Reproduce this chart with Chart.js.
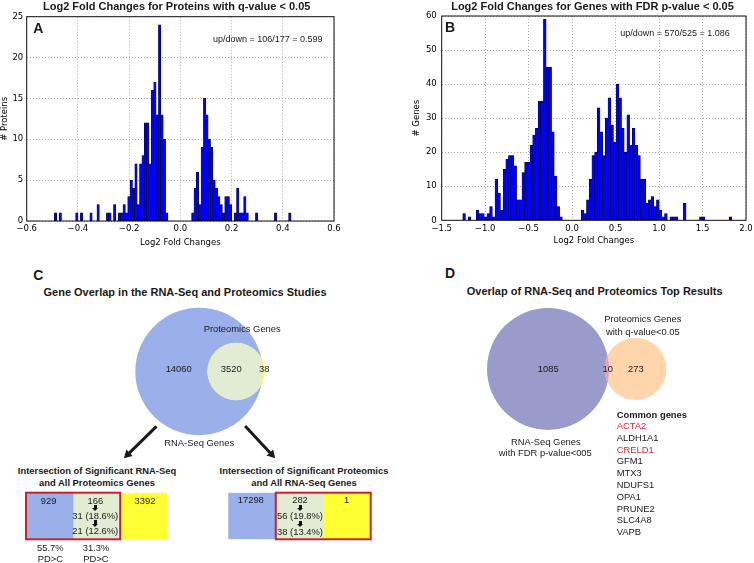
<!DOCTYPE html>
<html>
<head>
<meta charset="utf-8">
<script src="https://cdn.jsdelivr.net/npm/chart.js@4.4.1/dist/chart.umd.min.js"></script>
<style>
    html, body { margin: 0; padding: 0; background: #fff; }
    #page { position: relative; width: 754px; height: 563px; overflow: hidden; font-family: "Liberation Sans", Arial, sans-serif; color: #1a1a1a; }
    canvas { position: absolute; }
    .t { position: absolute; transform: translate(-50%, -50%); white-space: nowrap; line-height: 1; }
    .down { position: absolute; width: 7px; height: 7px; margin: -3.5px 0 0 -3.5px; }
    .down::before { content: ""; position: absolute; left: 2px; top: 0; width: 3px; height: 3.5px; background: #111; }
    .down::after { content: ""; position: absolute; left: 0; top: 3.5px; width: 0; height: 0; border-left: 3.5px solid transparent; border-right: 3.5px solid transparent; border-top: 3.5px solid #111; }
</style>
</head>
<body>
<div id="page">
    <canvas id="histA" width="354" height="252" style="left:0;top:0"></canvas>
    <canvas id="histB" width="354" height="252" style="left:400px;top:0"></canvas>
    <canvas id="vennC" width="200" height="165" style="left:100px;top:300px"></canvas>
    <canvas id="vennD" width="200" height="140" style="left:480px;top:300px"></canvas>
    <canvas id="cellsL" width="146" height="52" style="left:24px;top:490px"></canvas>
    <canvas id="cellsR" width="147" height="52" style="left:226px;top:490px"></canvas>
</div>
<script>
// A: log2 fold changes of proteins with q < 0.05 (100 bins)
const protRange = [-0.492, 0.432];
const protCounts = [
    1, 0, 1, 0, 0, 0, 0, 0, 0, 1,
    0, 1, 0, 0, 0, 1, 0, 0, 2, 0,
    0, 0, 1, 1, 0, 2, 0, 1, 1, 2,
    1, 3, 5, 4, 7, 2, 7, 8, 12, 12,
    7, 16, 17, 13, 24, 13, 10, 1, 0, 0,
    0, 0, 0, 0, 0, 0, 0, 0, 1, 4,
    6, 2, 9, 15, 13, 10, 9, 5, 4, 3,
    2, 1, 3, 3, 2, 0, 1, 4, 1, 1,
    3, 1, 0, 0, 0, 1, 0, 0, 0, 0,
    0, 0, 0, 1, 0, 0, 0, 0, 0, 1
];
const protXTicks = [-0.6, -0.4, -0.2, 0, 0.2, 0.4, 0.6];
const protYTicks = [0, 5, 10, 15, 20, 25];

// B: log2 fold changes of genes with FDR p < 0.05 (100 bins)
const geneRange = [-1.258, 1.837];
const geneCounts = [
    2, 0, 1, 0, 0, 3, 2, 2, 1, 2,
    4, 1, 12, 8, 3, 15, 18, 19, 19, 16,
    6, 6, 14, 17, 17, 22, 25, 27, 35, 35,
    59, 45, 45, 26, 13, 4, 1, 0, 0, 0,
    0, 0, 0, 0, 3, 2, 6, 12, 19, 20,
    33, 26, 19, 30, 36, 28, 23, 40, 36, 27,
    20, 31, 22, 27, 22, 19, 12, 12, 5, 6,
    7, 4, 6, 3, 1, 2, 0, 1, 1, 1,
    0, 0, 5, 0, 0, 0, 0, 0, 1, 1,
    0, 0, 0, 0, 0, 0, 0, 0, 0, 1
];
const geneXTicks = [-1.5, -1.0, -0.5, 0, 0.5, 1.0, 1.5, 2.0];
const geneYTicks = [0, 10, 20, 30, 40, 50, 60];

// C: all genes (RNA-Seq only, both, proteomics only)
const allCounts = [14060, 3520, 38];
const rnaSigCounts = [929, 166, 3392];
const rnaSigSteps = ["31 (18.6%)", "21 (12.6%)"];
const rnaSigPD = ["55.7%", "31.3%"];
const protSigCounts = [17298, 282, 1];
const protSigSteps = ["56 (19.8%)", "38 (13.4%)"];
const cellUnits = [1, 1, 1];

// D: top results (RNA-Seq only, both, proteomics only)
const topCounts = [1085, 10, 273];
const commonGenes = ["ACTA2", "ALDH1A1", "CRELD1", "GFM1", "MTX3", "NDUFS1", "OPA1", "PRUNE2", "SLC4A8", "VAPB"];
const redGenes = ["ACTA2", "CRELD1"];

const BLUE = "rgb(155,176,234)";
const GREEN = "rgb(226,236,210)";
const YELLOW = "rgb(255,255,51)";
const PURPLE = "rgb(154,154,203)";
const ORANGE = "rgb(255,213,171)";
const LENS = "rgb(214,168,190)";

const page = document.getElementById("page");

function addText(text, x, y, size, opts = {}) {
    const el = document.createElement("div");
    el.className = "t";
    el.textContent = text;
    el.style.left = x + "px";
    el.style.top = y + "px";
    el.style.fontSize = size + "px";
    if (opts.bold) el.style.fontWeight = "bold";
    if (opts.color) el.style.color = opts.color;
    if (opts.left) el.style.transform = "translate(0, -50%)";
    page.appendChild(el);
}

function addDownArrow(x, y) {
    const el = document.createElement("div");
    el.className = "down";
    el.style.left = x + "px";
    el.style.top = y + "px";
    page.appendChild(el);
}

function binWidth(range, counts) {
    return (range[1] - range[0]) / counts.length;
}

function upDown(range, counts) {
    const w = binWidth(range, counts);
    let up = 0, down = 0;
    counts.forEach((c, i) => {
        if (range[0] + (i + 0.5) * w > 0) up += c;
        else down += c;
    });
    return `up/down = ${up}/${down} = ${(up / down).toFixed(3)}`;
}

function fmtTick(v) {
    return (Math.abs(v) < 1e-9 ? 0 : v).toFixed(1).replace("-", "\u2212");
}

const framePlugin = {
    id: "frame",
    afterDatasetsDraw(chart) {
        const { ctx, chartArea: a } = chart;
        ctx.save();
        ctx.strokeStyle = "#111";
        ctx.lineWidth = 1;
        ctx.strokeRect(a.left, a.top, a.right - a.left, a.bottom - a.top);
        ctx.restore();
    }
};

function histogram(id, range, counts, xTicks, yTicks, cfg) {
    const w = binWidth(range, counts);
    const points = counts.map((c, i) => ({ x: range[0] + (i + 0.5) * w, y: c }));
    const font = { family: "DejaVu Sans", size: 8.5 };
    const grid = { color: "#9a9a9a", lineWidth: 0.8, drawTicks: false, offset: false };
    const border = { display: false, dash: [1, 2] };

    return new Chart(document.getElementById(id), {
        type: "bar",
        data: {
            datasets: [{
                data: points,
                backgroundColor: "#0000ff",
                borderColor: "#000",
                borderWidth: 0.5,
                borderSkipped: false,
                barPercentage: 1,
                categoryPercentage: 1
            }]
        },
        options: {
            responsive: false,
            animation: false,
            events: [],
            layout: { padding: cfg.padding, autoPadding: false },
            plugins: { legend: { display: false }, tooltip: { enabled: false } },
            scales: {
                x: {
                    type: "linear",
                    offset: false,
                    min: xTicks[0],
                    max: xTicks[xTicks.length - 1],
                    afterBuildTicks: s => { s.ticks = xTicks.map(v => ({ value: v })); },
                    afterFit: s => { s.height = cfg.xHeight; s.paddingLeft = 0; s.paddingRight = 0; },
                    grid: grid,
                    border: border,
                    ticks: { font: font, color: "#000", padding: 3, maxRotation: 0, autoSkip: false, callback: v => fmtTick(v) },
                    title: { display: true, text: "Log2 Fold Changes", font: font, color: "#000", padding: { top: 0, bottom: cfg.xTitlePad } }
                },
                y: {
                    type: "linear",
                    min: yTicks[0],
                    max: yTicks[yTicks.length - 1],
                    afterBuildTicks: s => { s.ticks = yTicks.map(v => ({ value: v })); },
                    afterFit: s => { s.width = cfg.yWidth; s.paddingTop = 0; s.paddingBottom = 0; },
                    grid: grid,
                    border: border,
                    ticks: { font: font, color: "#000", padding: cfg.yTickPad, autoSkip: false, callback: v => String(v) },
                    title: { display: true, text: cfg.yTitle, font: font, color: "#000", padding: { top: cfg.yTitlePad, bottom: 0 } }
                }
            }
        },
        plugins: [framePlugin]
    });
}

histogram("histA", protRange, protCounts, protXTicks, protYTicks, {
    padding: { top: 16.7, right: 20, bottom: 0, left: 0 },
    xHeight: 31, yWidth: 26.7, xTitlePad: 3.9, yTitlePad: 0, yTickPad: 3.5, yTitle: "# Proteins"
});

histogram("histB", geneRange, geneCounts, geneXTicks, geneYTicks, {
    padding: { top: 16, right: 8, bottom: 0, left: 0 },
    xHeight: 31.7, yWidth: 41.7, xTitlePad: 5.9, yTitlePad: 12, yTickPad: 5, yTitle: "# Genes"
});

// draws the overlap of two circles in its own colour
const lensPlugin = {
    id: "lens",
    afterDatasetsDraw(chart, args, opts) {
        const a = chart.getDatasetMeta(opts.clipTo).data[0];
        const b = chart.getDatasetMeta(opts.fill).data[0];
        const ctx = chart.ctx;
        ctx.save();
        ctx.beginPath();
        ctx.arc(a.x, a.y, a.options.radius, 0, Math.PI * 2);
        ctx.clip();
        ctx.beginPath();
        ctx.arc(b.x, b.y, b.options.radius, 0, Math.PI * 2);
        ctx.fillStyle = opts.color;
        ctx.fill();
        ctx.restore();
    }
};

// circle areas follow the set sizes: radius = sqrt(count) in scale units
function unitRadius(chart, units) {
    const s = chart.scales.x;
    return Math.abs(s.getPixelForValue(units) - s.getPixelForValue(0));
}

function arrowAngle(ctx) {
    const d = ctx.dataset.data;
    const sx = ctx.chart.scales.x, sy = ctx.chart.scales.y;
    const dx = sx.getPixelForValue(d[1].x) - sx.getPixelForValue(d[0].x);
    const dy = sy.getPixelForValue(d[1].y) - sy.getPixelForValue(d[0].y);
    return Math.atan2(dx, -dy) * 180 / Math.PI;
}

function arrowDataset(points) {
    return {
        type: "line",
        data: points,
        borderColor: "#1a1a1a",
        borderWidth: 3,
        pointRadius: [0, 5.2],
        pointStyle: "triangle",
        pointBackgroundColor: "#1a1a1a",
        pointBorderWidth: 0,
        pointRotation: arrowAngle,
        fill: false,
        order: 1
    };
}

function venn(id, counts, centres, colors, xRange, yRange, extra) {
    const sets = [counts[0] + counts[1], counts[1] + counts[2]];
    const datasets = sets.map((n, i) => ({
        type: "scatter",
        data: [{ x: centres[i][0], y: centres[i][1] }],
        showLine: false,
        pointBackgroundColor: colors[i],
        pointBorderWidth: 0,
        pointRadius: ctx => unitRadius(ctx.chart, Math.sqrt(n)),
        order: 3 - i
    })).concat(extra);

    return new Chart(document.getElementById(id), {
        type: "scatter",
        data: { datasets: datasets },
        options: {
            responsive: false,
            animation: false,
            events: [],
            layout: { padding: 0, autoPadding: false },
            plugins: { legend: { display: false }, tooltip: { enabled: false }, lens: { clipTo: 0, fill: 1, color: colors[2] } },
            scales: {
                x: { type: "linear", display: false, min: xRange[0], max: xRange[1] },
                y: { type: "linear", display: false, min: yRange[0], max: yRange[1] }
            }
        },
        plugins: [lensPlugin]
    });
}

// layout: centres and arrow ends in the same sqrt-count units
venn("vennC", allCounts, [[0, 0], [77, 0]], [BLUE, YELLOW, GREEN], [-206, 210], [-195, 149], [
    arrowDataset([{ x: -88.5, y: -114.6 }, { x: -148.5, y: -173.3 }]),
    arrowDataset([{ x: 95.8, y: -113.5 }, { x: 151, y: -172.9 }])
]);
venn("vennD", topCounts, [[0, 0], [47.4, 0]], [PURPLE, ORANGE, LENS], [-36.9, 71.6], [-38.5, 37.4], []);

// outline around some of the cells
const cellFramePlugin = {
    id: "cellFrame",
    afterDatasetsDraw(chart, args, opts) {
        const els = opts.datasets.map(i => chart.getDatasetMeta(i).data[0]);
        const left = Math.min(...els.map(e => Math.min(e.base, e.x)));
        const right = Math.max(...els.map(e => Math.max(e.base, e.x)));
        const top = Math.min(...els.map(e => e.y - e.height / 2));
        const bottom = Math.max(...els.map(e => e.y + e.height / 2));
        const ctx = chart.ctx;
        ctx.save();
        ctx.strokeStyle = "#c8232b";
        ctx.lineWidth = 2;
        ctx.strokeRect(left, top, right - left, bottom - top);
        ctx.restore();
    }
};

function cells(id, framed, padding) {
    const colors = [BLUE, GREEN, YELLOW];
    return new Chart(document.getElementById(id), {
        type: "bar",
        data: {
            labels: [""],
            datasets: cellUnits.map((u, i) => ({
                data: [u],
                backgroundColor: colors[i],
                borderWidth: 0,
                barPercentage: 1,
                categoryPercentage: 1
            }))
        },
        options: {
            indexAxis: "y",
            responsive: false,
            animation: false,
            events: [],
            layout: { padding: padding, autoPadding: false },
            plugins: { legend: { display: false }, tooltip: { enabled: false }, cellFrame: { datasets: framed } },
            scales: {
                x: { display: false, stacked: true, min: 0, max: cellUnits.length },
                y: { display: false, stacked: true }
            }
        },
        plugins: [cellFramePlugin]
    });
}

cells("cellsL", [0, 1], { left: 2, right: 2.7, top: 2.7, bottom: 2.7 });
cells("cellsR", [1, 2], { left: 2.3, right: 2.3, top: 2.7, bottom: 2.7 });

// text
addText("Log2 Fold Changes for Proteins with q-value < 0.05", 176.7, 5.6, 11, { bold: true });
addText("Log2 Fold Changes for Genes with FDR p-value < 0.05", 592.5, 5.6, 11, { bold: true });
addText("A", 38.3, 28, 14, { bold: true });
addText("B", 450, 27, 14, { bold: true });
addText(upDown(protRange, protCounts), 267.7, 39.3, 9);
addText(upDown(geneRange, geneCounts), 675, 33.3, 9);

addText("C", 38.3, 274.5, 14, { bold: true });
addText("D", 450, 272.5, 14, { bold: true });
addText("Gene Overlap in the RNA-Seq and Proteomics Studies", 185, 292, 11, { bold: true });
addText("Overlap of RNA-Seq and Proteomics Top Results", 594.7, 290.5, 11, { bold: true });

addText("Proteomics Genes", 242.2, 329.3, 9.4);
addText(String(allCounts[0]), 178.7, 369, 9.4);
addText(String(allCounts[1]), 231.2, 369, 9.4);
addText(String(allCounts[2]), 264.3, 369, 9.4);
addText("RNA-Seq Genes", 199.2, 443.3, 9.4);

addText("Intersection of Significant RNA-Seq", 97, 470.7, 9.4, { bold: true });
addText("and All Proteomics Genes", 97, 482.7, 9.4, { bold: true });
addText("Intersection of Significant Proteomics", 304, 470.7, 9.4, { bold: true });
addText("and All RNA-Seq Genes", 304, 482.7, 9.4, { bold: true });

addText(String(rnaSigCounts[0]), 48.7, 501.3, 9.4);
addText(String(rnaSigCounts[1]), 95.3, 500.5, 9.4);
addDownArrow(95.7, 508.2);
addText(rnaSigSteps[0], 95.3, 516, 9.4);
addDownArrow(95.7, 523.5);
addText(rnaSigSteps[1], 95.3, 531, 9.4);
addText(String(rnaSigCounts[2]), 145, 501, 9.4);
addText(rnaSigPD[0], 50.3, 547.7, 9.4);
addText("PD>C", 50.3, 558.7, 9.4);
addText(rnaSigPD[1], 96, 547.7, 9.4);
addText("PD>C", 96, 558.7, 9.4);

addText(String(protSigCounts[0]), 250.8, 500.3, 9.4);
addText(String(protSigCounts[1]), 300, 500.3, 9.4);
addDownArrow(300, 508.3);
addText(protSigSteps[0], 300, 516, 9.4);
addDownArrow(300, 524);
addText(protSigSteps[1], 300, 532, 9.4);
addText(String(protSigCounts[2]), 346.7, 500.3, 9.4);

addText(String(topCounts[0]), 548.3, 369, 9.4);
addText(String(topCounts[1]), 607.7, 369, 9.4);
addText(String(topCounts[2]), 635.8, 369, 9.4);
addText("Proteomics Genes", 642.8, 319.3, 9.4);
addText("with q-value<0.05", 642.8, 331.7, 9.4);
addText("RNA-Seq Genes", 545.8, 441.7, 9.4);
addText("with FDR p-value<005", 545.3, 453.3, 9.4);

addText("Common genes", 616.7, 415, 9.4, { bold: true, left: true });
commonGenes.forEach((g, i) => {
    addText(g, 616.7, 426 + i * 11.8, 9.4, { left: true, color: redGenes.includes(g) ? "#e8242b" : "#1a1a1a" });
});
</script>
</body>
</html>
